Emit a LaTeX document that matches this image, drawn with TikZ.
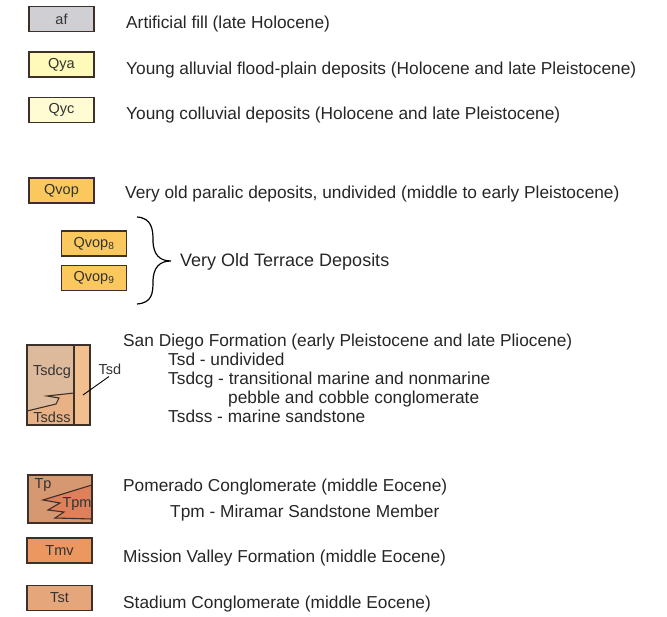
\documentclass[tikz,border=0pt]{standalone}
\usepackage{fontspec}
\setmainfont{Liberation Sans}
\usetikzlibrary{positioning}

\definecolor{afgray}{RGB}{208,208,212}
\definecolor{qyacol}{RGB}{255,250,185}
\definecolor{qyccol}{RGB}{255,252,212}
\definecolor{qvopcol}{RGB}{250,200,92}
\definecolor{tsdcgcol}{RGB}{222,186,156}
\definecolor{tsdsscol}{RGB}{232,178,134}
\definecolor{tsdcol}{RGB}{242,192,142}
\definecolor{tpcol}{RGB}{214,152,112}
\definecolor{tpmcol}{RGB}{222,128,92}
\definecolor{tmvcol}{RGB}{236,150,96}
\definecolor{tstcol}{RGB}{228,166,122}
\definecolor{rim}{RGB}{60,48,40}

\begin{document}
\begin{tikzpicture}[x=1pt, y=-1pt,
    unit/.style={draw=rim, line width=1.1pt, minimum width=65pt, minimum height=25pt,
        inner sep=0pt, font=\fontsize{14.5}{14.5}\selectfont, text=black!80},
    tag/.style={inner sep=0pt, font=\fontsize{14.5}{14.5}\selectfont, text=black!80},
    desc/.style={anchor=base west, inner sep=0pt, font=\fontsize{17.3}{19}\selectfont, text=black!85},
    edge/.style={draw=rim, line width=1.1pt, line join=miter}]
    \useasboundingbox (0,0) rectangle (667,617);

    % quaternary units
    \foreach \nm/\y/\col in {af/19/afgray, Qya/64.5/qyacol, Qyc/110/qyccol, Qvop/190.5/qvopcol}
        \node[unit, fill=\col] (\nm) at (61.5, \y) {\nm};
    \node[unit, fill=qvopcol] (Qvop8) at (94, 243.5) {Qvop\textsubscript{8}};
    \node[unit, fill=qvopcol] (Qvop9) at (94, 278) {Qvop\textsubscript{9}};

    \node[desc] (afdesc) at (126, 29) {Artificial fill (late Holocene)};
    \node[desc] (Qyadesc) at (126, 75) {Young alluvial flood-plain deposits (Holocene and late Pleistocene)};
    \node[desc] (Qycdesc) at (126, 120) {Young colluvial deposits (Holocene and late Pleistocene)};
    \node[desc] (Qvopdesc) at (125, 199) {Very old paralic deposits, undivided (middle to early Pleistocene)};

    % brace
    \coordinate (brtop) at (137, 217);
    \coordinate (brtip) at (171, 261);
    \coordinate (brbot) at (137, 304);
    \draw[line width=1.2pt] (brtop) .. controls (152, 218) and (153, 230) .. (153, 240)
        .. controls (153, 255) and (160, 261) .. (brtip)
        .. controls (160, 261) and (153, 267) .. (153, 282)
        .. controls (153, 293) and (152, 303) .. (brbot);
    \node[desc, font=\fontsize{18}{19}\selectfont] (terrace) at (180, 267) {Very Old Terrace Deposits};

    % san diego formation
    \fill[tsdcgcol] (27, 345) rectangle (74, 425);
    \fill[tsdsscol] (74, 393) -- (47, 396) -- (59, 398) -- (56, 404) -- (27, 411) -- (27, 425) -- (74, 425) -- cycle;
    \fill[tsdcol] (74, 345) rectangle (90, 425);
    \draw[edge] (74, 393) -- (47, 396) -- (59, 398) -- (56, 404) -- (27, 411);
    \draw[edge] (74, 345) -- (74, 425);
    \node[edge, minimum width=63pt, minimum height=80pt, inner sep=0pt] (Tsdbox) at (58.5, 385) {};
    \node[tag] (Tsdcg) at (52, 372) {Tsdcg};
    \node[tag] (Tsdss) at (52, 417) {Tsdss};
    \node[tag] (Tsd) at (110, 369) {Tsd};
    \coordinate (tsdpt) at (83, 395);
    \draw[line width=0.9pt] (tsdpt) -- ([xshift=-1pt, yshift=-2pt]Tsd.south);

    \node[desc] (Tsddesc) at (123, 347) {San Diego Formation (early Pleistocene and late Pliocene)};
    \node[desc] (Tsddesc1) at (168, 366) {Tsd - undivided};
    \node[desc] (Tsddesc2) at (168, 385) {Tsdcg - transitional marine and nonmarine};
    \node[desc] (Tsddesc3) at (228, 404) {pebble and cobble conglomerate};
    \node[desc] (Tsddesc4) at (168, 423) {Tsdss - marine sandstone};

    % pomerado conglomerate
    \fill[tpcol] (28, 475) rectangle (92, 523);
    \fill[tpmcol] (92, 485) -- (43, 500) -- (60, 503) -- (48, 510) -- (64, 512) -- (55, 518) -- (92, 519) -- cycle;
    \draw[edge] (92, 485) -- (43, 500) -- (60, 503) -- (48, 510) -- (64, 512) -- (55, 518) -- (92, 519);
    \node[edge, minimum width=64pt, minimum height=48pt, inner sep=0pt] (Tpbox) at (60, 499) {};
    \node[tag] (Tp) at (43, 485) {Tp};
    \node[tag] (Tpm) at (77, 504) {Tpm};

    \node[desc] (Tpdesc) at (123, 492) {Pomerado Conglomerate (middle Eocene)};
    \node[desc] (Tpmdesc) at (170, 517) {Tpm - Miramar Sandstone Member};

    % eocene units
    \node[unit, fill=tmvcol] (Tmv) at (59.5, 550.5) {Tmv};
    \node[unit, fill=tstcol] (Tst) at (59.5, 598) {Tst};
    \node[desc] (Tmvdesc) at (123, 562) {Mission Valley Formation (middle Eocene)};
    \node[desc] (Tstdesc) at (123, 608) {Stadium Conglomerate (middle Eocene)};
\end{tikzpicture}
\end{document}
